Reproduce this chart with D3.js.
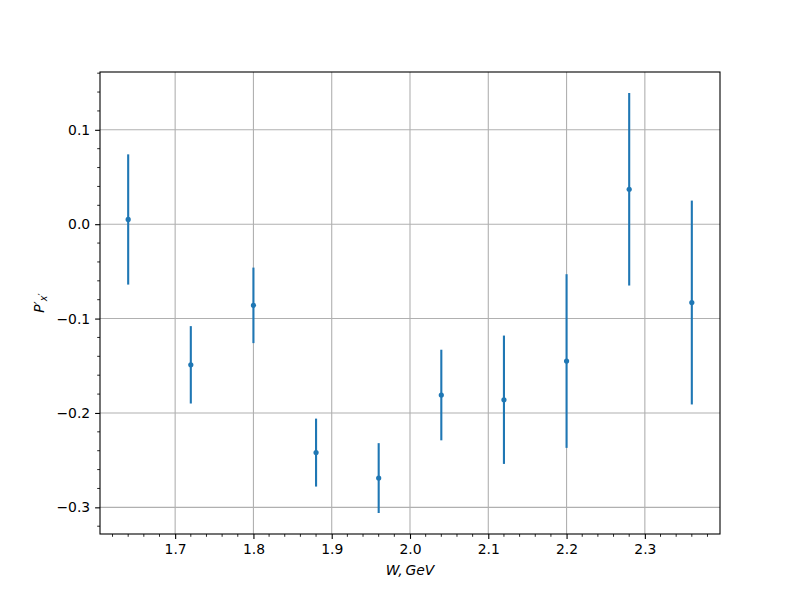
<!DOCTYPE html>
<html><head><meta charset="utf-8">
<script src="https://cdn.jsdelivr.net/npm/d3@7"></script>
<style>body{margin:0;background:#fff}</style>
</head><body>
<svg id="c" width="800" height="600"></svg>
<script>
const wValues = [1.64, 1.72, 1.80, 1.88, 1.96, 2.04, 2.12, 2.20, 2.28, 2.36];
const pValues = [0.005, -0.149, -0.086, -0.242, -0.269, -0.181, -0.186, -0.145, 0.037, -0.083];
const pErrors = [0.069, 0.041, 0.040, 0.036, 0.037, 0.048, 0.068, 0.092, 0.102, 0.108];
const xTicks = [1.7, 1.8, 1.9, 2.0, 2.1, 2.2, 2.3];
const yTicks = [-0.3, -0.2, -0.1, 0.0, 0.1];

const svg = d3.select("#c");
const L = 100, R = 720, T = 72, B = 534;
const font = "DejaVu Sans";
const fs = 13.9;

const xMin = d3.min(wValues), xMax = d3.max(wValues);
const xm = (xMax - xMin) * 0.05;
const x = d3.scaleLinear().domain([xMin - xm, xMax + xm]).range([L, R]);
const lo = d3.min(pValues.map((v, i) => v - pErrors[i]));
const hi = d3.max(pValues.map((v, i) => v + pErrors[i]));
const ym = (hi - lo) * 0.05;
const y = d3.scaleLinear().domain([lo - ym, hi + ym]).range([B, T]);

// grid
const g = svg.append("g");
g.selectAll(".gx").data(xTicks).enter().append("line")
  .attr("x1", d => x(d)).attr("x2", d => x(d)).attr("y1", T).attr("y2", B)
  .attr("stroke", "#b0b0b0").attr("stroke-width", 1.1);
g.selectAll(".gy").data(yTicks).enter().append("line")
  .attr("y1", d => y(d)).attr("y2", d => y(d)).attr("x1", L).attr("x2", R)
  .attr("stroke", "#b0b0b0").attr("stroke-width", 1.1);

// minor ticks
const xMinor = d3.range(1.62, 2.3961, 0.02).filter(v => !xTicks.some(t => Math.abs(t - v) < 1e-6));
const yMinor = d3.range(-0.32, 0.1601, 0.02).filter(v => !yTicks.some(t => Math.abs(t - v) < 1e-6));

const xAxis = d3.axisBottom(x).tickValues(xTicks).tickFormat(d3.format(".1f")).tickSize(4.9).tickPadding(4.9);
const yAxis = d3.axisLeft(y).tickValues(yTicks).tickFormat(d => d3.format(".1f")(d).replace("-", "\u2212")).tickSize(4.9).tickPadding(4.9);

const gx = svg.append("g").attr("transform", `translate(0,${B})`).call(xAxis);
const gy = svg.append("g").attr("transform", `translate(${L},0)`).call(yAxis);
[gx, gy].forEach(a => {
  a.select(".domain").remove();
  a.selectAll("text").attr("font-family", font).attr("font-size", fs).attr("fill", "#000");
  a.selectAll("line").attr("stroke", "#000").attr("stroke-width", 1.1);
});
gx.selectAll(".minor").data(xMinor).enter().append("line")
  .attr("x1", d => x(d)).attr("x2", d => x(d)).attr("y1", 0).attr("y2", 2.8)
  .attr("stroke", "#000").attr("stroke-width", 0.85);
gy.selectAll(".minor").data(yMinor).enter().append("line")
  .attr("y1", d => y(d)).attr("y2", d => y(d)).attr("x1", 0).attr("x2", -2.8)
  .attr("stroke", "#000").attr("stroke-width", 0.85);

// error bars
const blue = "#1f77b4";
const data = wValues.map((w, i) => ({w, p: pValues[i], e: pErrors[i]}));
svg.selectAll(".eb").data(data).enter().append("line")
  .attr("x1", d => x(d.w)).attr("x2", d => x(d.w))
  .attr("y1", d => y(d.p - d.e)).attr("y2", d => y(d.p + d.e))
  .attr("stroke", blue).attr("stroke-width", 2.1);
svg.selectAll(".pt").data(data).enter().append("circle")
  .attr("cx", d => x(d.w)).attr("cy", d => y(d.p)).attr("r", 2.6)
  .attr("fill", blue);

// frame
svg.append("rect").attr("x", L).attr("y", T).attr("width", R - L).attr("height", B - T)
  .attr("fill", "none").attr("stroke", "#000").attr("stroke-width", 1.1);

// labels
svg.append("text").attr("x", (L + R) / 2).attr("y", 575).attr("text-anchor", "middle")
  .attr("font-family", font).attr("font-size", fs).attr("font-style", "italic")
  .text("W,\u2009GeV");
const yl = svg.append("text").attr("transform", `translate(44,${(T + B) / 2}) rotate(-90)`)
  .attr("text-anchor", "middle").attr("font-family", font).attr("font-size", fs).attr("font-style", "italic");
yl.append("tspan").text("P");
yl.append("tspan").attr("font-style", "normal").attr("dy", 0).text("\u2032");
yl.append("tspan").attr("font-size", 9.7).attr("dy", 3).text("x");
yl.append("tspan").attr("font-size", 9.7).attr("font-style", "normal").attr("dy", -1).text("\u2032");
</script>
</body></html>
